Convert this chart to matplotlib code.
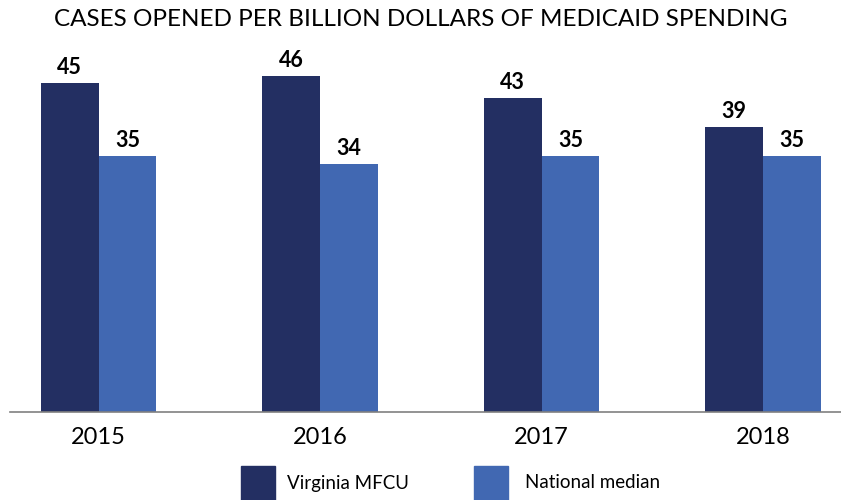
import matplotlib
matplotlib.use("Agg")
import matplotlib.pyplot as plt
from matplotlib.patches import Rectangle
import numpy as np

years = ["2015", "2016", "2017", "2018"]
virginia = [45, 46, 43, 39]
national = [35, 34, 35, 35]
series_names = ["Virginia MFCU", "National median"]

DARK = "#232f62"
LIGHT = "#4168b2"

plt.rcParams['font.family'] = ['Lato', 'DejaVu Sans']

fig = plt.figure(figsize=(8.41, 5.0), dpi=100)
ax = fig.add_axes([10 / 841, 88 / 500, 831 / 841, 352 / 500])

x = np.arange(len(years))
w = 0.26
b1 = ax.bar(x - w / 2, virginia, width=w, color=DARK)
b2 = ax.bar(x + w / 2, national, width=w, color=LIGHT)

for bars, vals in ((b1, virginia), (b2, national)):
    for rect, v in zip(bars, vals):
        ax.text(rect.get_x() + rect.get_width() / 2, v + 0.7, str(v),
                ha='center', va='bottom', fontsize=15.5, fontweight='bold', color='black')

ax.set_xlim(-0.4, 3.352)
ax.set_ylim(0, 48.2)
ax.set_yticks([])
ax.set_xticks(x)
ax.set_xticklabels(years, fontsize=17)
ax.tick_params(axis='x', length=0, pad=11)
for s in ['top', 'right', 'left']:
    ax.spines[s].set_visible(False)
ax.spines['bottom'].set_color('#808080')
ax.spines['bottom'].set_linewidth(1.2)

fig.text(421 / 841, 0.96, "CASES OPENED PER BILLION DOLLARS OF MEDICAID SPENDING",
         ha='center', va='center', fontsize=17.5, color='black')

# legend drawn as figure-level patches and labels
for px, tx, col, name in ((241, 287, DARK, series_names[0]), (474, 525, LIGHT, series_names[1])):
    fig.add_artist(Rectangle((px / 841, 0), 34 / 841, 34 / 500,
                             transform=fig.transFigure, color=col))
    fig.text(tx / 841, 17 / 500, name, ha='left', va='center', fontsize=13.5)

fig.savefig("out.png", dpi=100)
